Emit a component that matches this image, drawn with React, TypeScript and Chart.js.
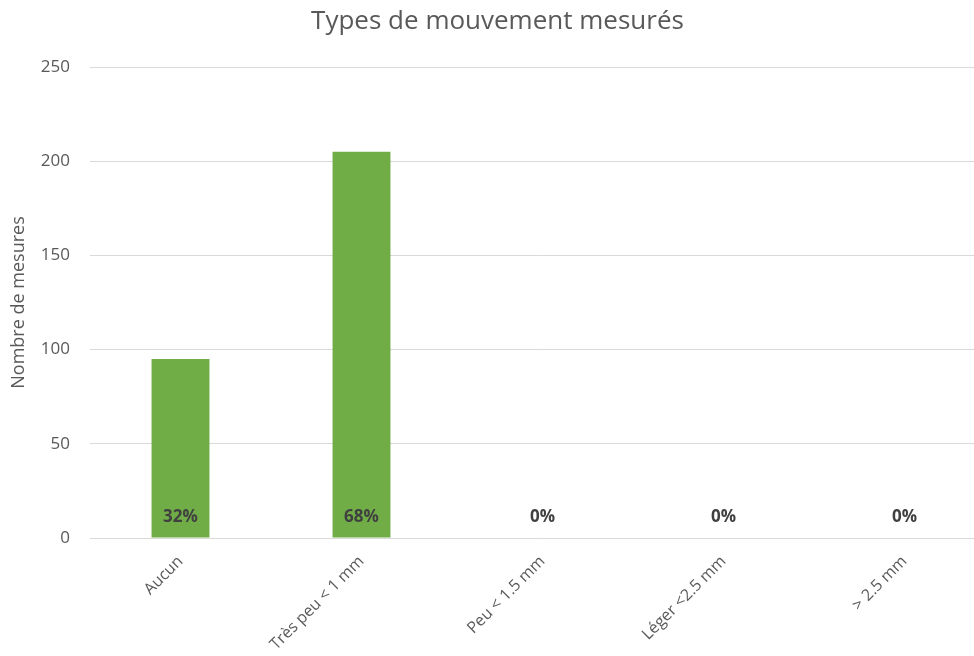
import React, { useEffect, useRef } from "react";
import { Chart, registerables } from "chart.js";

Chart.register(...registerables);

const categories = ["Aucun", "Très peu < 1 mm", "Peu < 1.5 mm", "Léger <2.5 mm", "> 2.5 mm"];
const counts = [95, 205, 0, 0, 0];
const percentLabels = ["32%", "68%", "0%", "0%", "0%"];
const yTicks = [0, 50, 100, 150, 200, 250];

const FONT = "'Open Sans', 'Noto Sans', sans-serif";

const valueLabelPlugin = {
  id: "valueLabels",
  afterDatasetsDraw(chart: any) {
    const ctx = chart.ctx;
    const meta = chart.getDatasetMeta(0);
    const yScale = chart.scales.y;
    const base = yScale.getPixelForValue(0);
    ctx.save();
    ctx.font = `bold 17px ${FONT}`;
    ctx.fillStyle = "#404040";
    ctx.textAlign = "center";
    ctx.textBaseline = "middle";
    meta.data.forEach((bar: any, i: number) => {
      ctx.fillText(percentLabels[i], bar.x, base - 21);
    });
    ctx.restore();
  },
};

export default function App() {
  const canvasRef = useRef<HTMLCanvasElement | null>(null);

  useEffect(() => {
    if (!canvasRef.current) return;
    const chart = new Chart(canvasRef.current, {
      type: "bar",
      data: {
        labels: categories,
        datasets: [
          {
            data: counts,
            backgroundColor: "#70ad47",
            borderWidth: 0,
            barPercentage: 0.32,
            categoryPercentage: 1,
          },
        ],
      },
      options: {
        animation: false,
        responsive: true,
        maintainAspectRatio: false,
        layout: { padding: { left: 0, right: 0, top: 0, bottom: 0 } },
        plugins: {
          legend: { display: false },
          tooltip: { enabled: false },
          title: {
            display: true,
            text: "Types de mouvement mesurés",
            color: "#595959",
            font: { family: FONT, size: 26, weight: "normal" },
            padding: { top: 6.4, bottom: 29.4 },
          },
        },
        scales: {
          x: {
            grid: { display: false },
            border: { display: false },
            ticks: {
              color: "#595959",
              font: { family: FONT, size: 16 },
              maxRotation: 45,
              minRotation: 45,
              padding: 6,
            },
            afterFit(scale: any) {
              scale.height = 118;
            },
          },
          y: {
            min: 0,
            max: 250,
            afterBuildTicks(scale: any) {
              scale.ticks = yTicks.map((v) => ({ value: v }));
            },
            grid: { color: "#d9d9d9", drawTicks: false, lineWidth: 1 },
            border: { display: false },
            ticks: {
              color: "#595959",
              font: { family: FONT, size: 17 },
              padding: 20,
            },
            title: {
              display: true,
              text: "Nombre de mesures",
              color: "#595959",
              font: { family: FONT, size: 18 },
              padding: { top: 8, bottom: 0 },
            },
            afterFit(scale: any) {
              scale.width = 90;
            },
          },
        },
      },
      plugins: [valueLabelPlugin],
    });
    return () => chart.destroy();
  }, []);

  return (
    <div style={{ position: "absolute", left: 0, top: 0, width: 974, height: 656, overflow: "hidden", background: "#fff" }}>
      <div style={{ position: "relative", width: 995, height: 656 }}>
        <canvas ref={canvasRef} />
      </div>
    </div>
  );
}
